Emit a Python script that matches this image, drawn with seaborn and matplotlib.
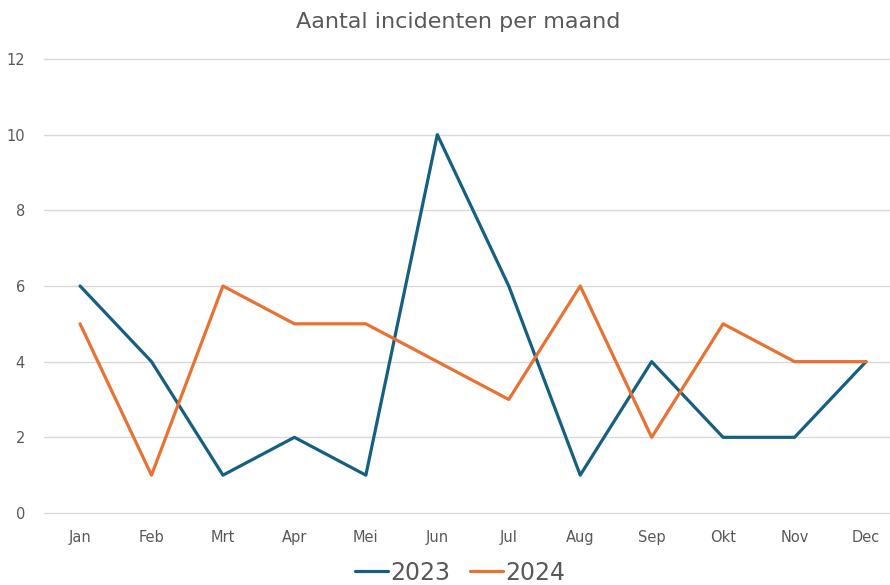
import pandas as pd
import seaborn as sns
import matplotlib.pyplot as plt

months = ['Jan', 'Feb', 'Mrt', 'Apr', 'Mei', 'Jun', 'Jul', 'Aug', 'Sep', 'Okt', 'Nov', 'Dec']
values_2023 = [6, 4, 1, 2, 1, 10, 6, 1, 4, 2, 2, 4]
values_2024 = [5, 1, 6, 5, 5, 4, 3, 6, 2, 5, 4, 4]
years = ['2023', '2024']
colors = ['#156082', '#E97132']


def plot_incidents():
    df = pd.concat([
        pd.DataFrame({'maand': months, 'aantal': values_2023, 'jaar': years[0]}),
        pd.DataFrame({'maand': months, 'aantal': values_2024, 'jaar': years[1]}),
    ])
    df['pos'] = df['maand'].map({m: i for i, m in enumerate(months)})

    sns.set_theme(style='white')
    fig = plt.figure(figsize=(8.9, 5.85), dpi=100)
    ax = fig.add_axes([0.0498, 0.1231, 0.9634, 0.7761])

    sns.lineplot(data=df, x='pos', y='aantal', hue='jaar', palette=colors,
                 linewidth=2.3, ax=ax, legend=False)

    ax.set_xlim(-0.5, 11.5)
    ax.set_ylim(0, 12)
    ax.set_xticks(range(len(months)))
    ax.set_xticklabels(months)
    ax.set_yticks(range(0, 13, 2))
    ax.yaxis.grid(True, color='#d9d9d9', linewidth=1)
    for gl in ax.get_ygridlines():
        gl.set_clip_on(False)
    ax.set_axisbelow(True)
    for s in ax.spines.values():
        s.set_visible(False)
    ax.tick_params(axis='x', length=0, pad=12, labelsize=10.5, labelcolor='#595959')
    ax.tick_params(axis='y', length=0, pad=14, labelsize=10.5, labelcolor='#595959')
    ax.set_xlabel('')
    ax.set_ylabel('')

    fig.text(0.515, 0.962, 'Aantal incidenten per maand', ha='center', va='center',
             fontsize=16, color='#595959')

    handles = [plt.Line2D([], [], color=c, linewidth=2.3) for c in colors]
    fig.legend(handles, years, loc='center', bbox_to_anchor=(0.517, 0.021), ncol=2,
               frameon=False, fontsize=17, handlelength=1.4, handletextpad=0.1,
               columnspacing=0.8, labelcolor='#595959')

    plt.savefig('out.png', dpi=100)


if __name__ == '__main__':
    plot_incidents()
